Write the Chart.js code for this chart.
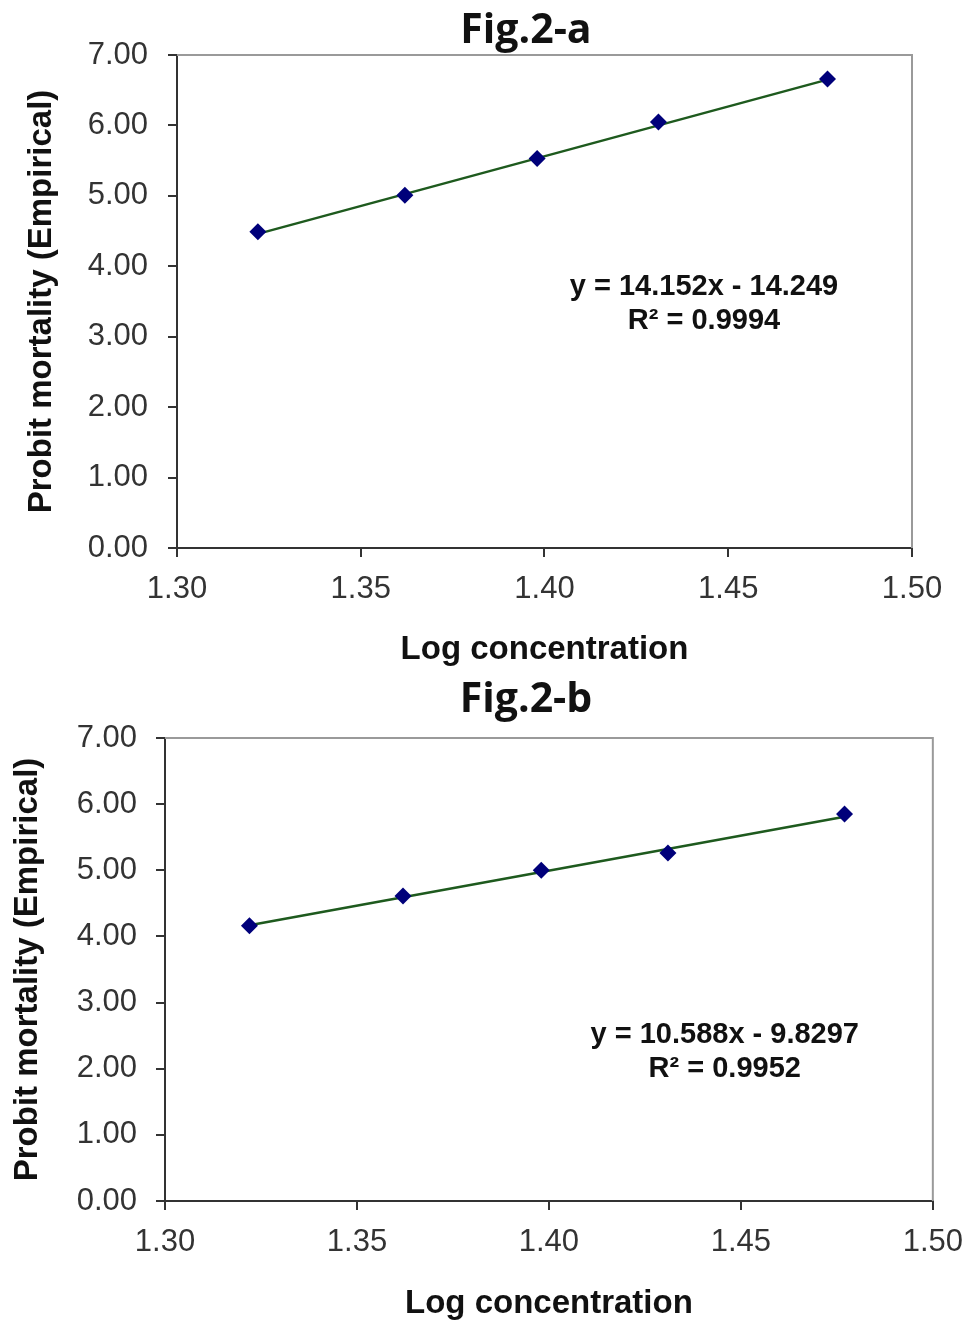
<!DOCTYPE html>
<html>
<head>
<meta charset="utf-8">
<script src="https://cdn.jsdelivr.net/npm/chart.js@4.4.1/dist/chart.umd.min.js"></script>
<style>
  html, body { margin: 0; padding: 0; background: #fff; }
  .box { position: absolute; left: 0; width: 977px; }
  #boxA { top: 0; height: 672px; }
  #boxB { top: 672px; height: 652px; }
  .fig {
    position: absolute; left: 376px; width: 300px; text-align: center;
    font: bold 41px "Open Sans", sans-serif; color: #111; line-height: 50px;
  }
  #titleA { top: 2px; }
  #titleB { top: 671px; }
</style>
</head>
<body>
<div class="box" id="boxA"><canvas id="chartA"></canvas></div>
<div class="box" id="boxB"><canvas id="chartB"></canvas></div>
<div class="fig" id="titleA">Fig.2-a</div>
<div class="fig" id="titleB">Fig.2-b</div>
<script>
// log concentration of the five doses (same for both figures)
const logConc = [1.322, 1.362, 1.398, 1.431, 1.477];
// empirical probit mortality
const probitA = [4.49, 5.01, 5.53, 6.05, 6.66];
const probitB = [4.16, 4.61, 5.00, 5.26, 5.85];
// trendline ends
const trendX = [1.322, 1.477];
const trendA = [4.46, 6.65];
const trendB = [4.17, 5.81];
const xTicks = [1.30, 1.35, 1.40, 1.45, 1.50];
const yTicks = [0, 1, 2, 3, 4, 5, 6, 7];
const eqA = ['y = 14.152x - 14.249', 'R\u00b2 = 0.9994'];
const eqB = ['y = 10.588x - 9.8297', 'R\u00b2 = 0.9952'];

const pairs = (xs, ys) => xs.map((x, i) => ({x: x, y: ys[i]}));

// gray top/right frame + equation text
const framePlugin = {
  id: 'frame',
  afterDraw(chart, args, opts) {
    const {ctx, chartArea: a, scales} = chart;
    ctx.save();
    ctx.strokeStyle = '#9a9a9a';
    ctx.lineWidth = 2;
    ctx.beginPath();
    ctx.moveTo(a.left, a.top);
    ctx.lineTo(a.right, a.top);
    ctx.lineTo(a.right, a.bottom);
    ctx.stroke();
    ctx.fillStyle = '#111';
    ctx.font = 'bold 29px "Liberation Sans", Arial, sans-serif';
    ctx.textAlign = 'center';
    ctx.textBaseline = 'middle';
    const px = scales.x.getPixelForValue(opts.at[0]);
    opts.lines.forEach((t, i) => {
      ctx.fillText(t, px, scales.y.getPixelForValue(opts.at[1]) + i * 34);
    });
    ctx.restore();
  }
};

function makeChart(id, probit, trend, cfg) {
  return new Chart(document.getElementById(id), {
    type: 'scatter',
    data: {
      datasets: [
        {
          label: 'Observed',
          data: pairs(logConc, probit),
          pointStyle: 'rectRot',
          pointRadius: 8.5,
          pointHoverRadius: 8.5,
          backgroundColor: '#00007a',
          borderColor: '#00007a',
          borderWidth: 0,
          showLine: false,
          order: 0,
        },
        {
          label: 'Linear',
          data: pairs(trendX, trend),
          showLine: true,
          borderColor: '#1e5a1e',
          borderWidth: 2.5,
          pointRadius: 0,
          order: 1,
        },
      ],
    },
    options: {
      responsive: true,
      maintainAspectRatio: false,
      animation: false,
      layout: {padding: {left: 0, right: cfg.padRight, top: cfg.padTop, bottom: 0}},
      plugins: {
        legend: {display: false},
        tooltip: {enabled: false},
        title: {display: false},
        frame: {at: cfg.eqAt, lines: cfg.eq},
      },
      scales: {
        x: {
          type: 'linear',
          min: 1.30,
          max: 1.50,
          afterBuildTicks: (s) => { s.ticks = xTicks.map(v => ({value: v})); },
          afterFit: (s) => { s.height = cfg.xHeight; },
          ticks: {
            color: '#333',
            font: {family: '"Liberation Sans", Arial, sans-serif', size: 31},
            padding: cfg.xTickPad,
            maxRotation: 0,
            callback: (v) => Number(v).toFixed(2),
          },
          grid: {drawOnChartArea: false, color: '#333', lineWidth: 2, tickLength: 9},
          border: {color: '#333', width: 2},
          title: {
            display: true,
            text: 'Log concentration',
            color: '#111',
            font: {family: '"Liberation Sans", Arial, sans-serif', size: 33, weight: 'bold', lineHeight: 1.2},
            padding: {top: cfg.xTitlePad, bottom: cfg.xTitlePad},
          },
        },
        y: {
          min: 0,
          max: 7,
          afterBuildTicks: (s) => { s.ticks = yTicks.map(v => ({value: v})); },
          afterFit: (s) => { s.width = cfg.yWidth; },
          ticks: {
            color: '#333',
            font: {family: '"Liberation Sans", Arial, sans-serif', size: 31},
            padding: cfg.yTickPad,
            callback: (v) => Number(v).toFixed(2),
          },
          grid: {drawOnChartArea: false, color: '#333', lineWidth: 2, tickLength: 9},
          border: {color: '#333', width: 2},
          title: {
            display: true,
            text: 'Probit mortality (Empirical)',
            color: '#111',
            font: {family: '"Liberation Sans", Arial, sans-serif', size: 33, weight: 'bold', lineHeight: 1.2},
            padding: {top: cfg.yTitlePad, bottom: cfg.yTitlePad},
          },
        },
      },
    },
    plugins: [framePlugin],
  });
}

makeChart('chartA', probitA, trendA, {
  padTop: 55, padRight: 65, xHeight: 124, yWidth: 177,
  xTickPad: 14, xTitlePad: 2, yTickPad: 20, yTitlePad: 22,
  eqAt: [1.4434, 3.71], eq: eqA,
});

makeChart('chartB', probitB, trendB, {
  padTop: 66, padRight: 34, xHeight: 123, yWidth: 165,
  xTickPad: 14, xTitlePad: 0, yTickPad: 19, yTitlePad: 8,
  eqAt: [1.4458, 2.51], eq: eqB,
});
</script>
</body>
</html>
